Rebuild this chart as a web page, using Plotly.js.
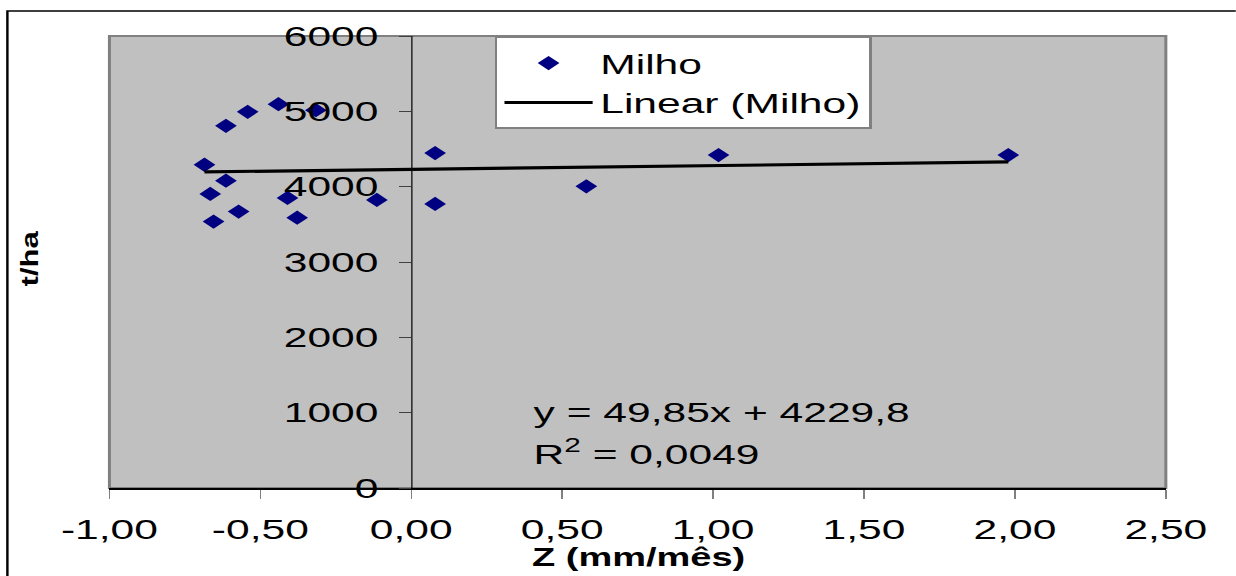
<!DOCTYPE html>
<html>
<head>
<meta charset="utf-8">
<script src="https://cdn.plot.ly/plotly-3.0.1.min.js"></script>
<style>
html,body{margin:0;padding:0;background:#fff;overflow:hidden;width:1236px;height:576px;}
#chart{width:813px;height:576px;transform:scaleX(1.52);transform-origin:0 0;}
</style>
</head>
<body>
<div id="chart"></div>
<script>
// ---- data ----
const zValues = [-0.685, -0.614, -0.542, -0.440, -0.316, -0.614, -0.666, -0.655, -0.572, -0.410, -0.378, -0.114, 0.079, 0.079, 0.580, 1.018, 1.978];
const yieldValues = [4291, 4808, 4993, 5095, 5016, 4079, 3903, 3536, 3669, 3850, 3589, 3824, 4446, 3771, 4004, 4419, 4419];
const trendX = [-0.685, 1.978];
const trendY = [4196, 4328];
const xTickVals = [-1, -0.5, 0, 0.5, 1, 1.5, 2, 2.5];
const xTickText = ['-1,00', '-0,50', '0,00', '0,50', '1,00', '1,50', '2,00', '2,50'];
const yTickVals = [0, 1000, 2000, 3000, 4000, 5000, 6000];
const yTickText = ['0', '1000', '2000', '3000', '4000', '5000', '6000'];
const seriesName = 'Milho';
const trendName = 'Linear (Milho)';
const equationText = 'y = 49,85x + 4229,8';
const r2Text = 'R<sup>2</sup> = 0,0049';
const xTitle = 'Z (mm/mês)';
const yTitle = 't/ha';

const FONT = 'Liberation Sans, Arial, sans-serif';
const SX = 1.52;

const traces = [
  {
    x: zValues, y: yieldValues, type: 'scatter', mode: 'markers', name: seriesName,
    marker: {symbol: 'diamond', size: 11, color: '#000080', line: {width: 0}}
  },
  {
    x: trendX, y: trendY, type: 'scatter', mode: 'lines', name: trendName,
    line: {color: '#000000', width: 3.2}
  }
];

const layout = {
  width: 813, height: 576,
  margin: {l: 72.4, r: 45.9, t: 36, b: 88},
  paper_bgcolor: '#ffffff',
  plot_bgcolor: '#c0c0c0',
  font: {family: FONT, size: 28, color: '#000'},
  showlegend: true,
  legend: {
    x: 0.3646, y: 0.998, xanchor: 'left', yanchor: 'top',
    bgcolor: '#ffffff', bordercolor: '#808080', borderwidth: 1.5,
    font: {family: FONT, size: 28, color: '#000'},
    itemwidth: 58, tracegroupgap: 0
  },
  xaxis: {
    range: [-1, 2.5], tickmode: 'array', tickvals: xTickVals, ticktext: xTickText,
    showgrid: false, zeroline: false, showline: true, linecolor: '#000', linewidth: 1.5,
    ticks: 'outside', ticklen: 9, tickwidth: 1, tickcolor: '#808080',
    ticklabelstandoff: 7,
    tickfont: {family: FONT, size: 28, color: '#000'}, fixedrange: true
  },
  yaxis: {
    range: [0, 6000], tickmode: 'array', tickvals: yTickVals, ticktext: yTickText,
    anchor: 'free', position: 1 / 3.5,
    showgrid: false, zeroline: false, showline: true, linecolor: '#000', linewidth: 0.8,
    ticks: 'outside', ticklen: 8, tickwidth: 1, tickcolor: '#404040',
    ticklabelstandoff: 8,
    tickfont: {family: FONT, size: 28, color: '#000'}, fixedrange: true
  },
  shapes: [
    {type: 'rect', xref: 'paper', yref: 'paper', x0: 0, x1: 1, y0: 0, y1: 1,
     line: {color: '#808080', width: 2}, layer: 'below'},
    {type: 'rect', xref: 'paper', yref: 'paper', x0: -0.0966, x1: 1.07, y0: -0.25, y1: 1.0553,
     line: {color: '#000000', width: 1.6}, layer: 'below'}
  ],
  annotations: [
    {text: equationText, xref: 'x', yref: 'y', x: 0.396, y: 996, xanchor: 'left', yanchor: 'middle',
     showarrow: false, font: {family: FONT, size: 28, color: '#000'}},
    {text: r2Text, xref: 'x', yref: 'y', x: 0.396, y: 475, xanchor: 'left', yanchor: 'middle',
     showarrow: false, font: {family: FONT, size: 28, color: '#000'}},
    {text: '<b>' + xTitle + '</b>', xref: 'paper', yref: 'paper', x: 0.5, y: -0.1527,
     xanchor: 'center', yanchor: 'middle', showarrow: false,
     font: {family: FONT, size: 25, color: '#000'}},
    {text: '<b>' + yTitle + '</b>', xref: 'paper', yref: 'paper', x: -0.076, y: 0.5066,
     xanchor: 'center', yanchor: 'middle', textangle: -90, showarrow: false,
     font: {family: FONT, size: 24, color: '#000'}}
  ]
};

Plotly.newPlot('chart', traces, layout, {displayModeBar: false, staticPlot: true}).then(function (gd) {
  // undo horizontal stretch on the rotated y title so it reads like the reference
  const g = gd.querySelector('.annotation[data-index="3"]');
  if (g) {
    const bb = g.getBBox();
    const cx = bb.x + bb.width / 2, cy = bb.y + bb.height / 2;
    const prev = g.getAttribute('transform') || '';
    g.setAttribute('transform', 'translate(' + cx + ',' + cy + ') scale(' + (1 / SX) + ',1.29) translate(' + (-cx) + ',' + (-cy) + ') ' + prev);
  }
});
</script>
</body>
</html>
